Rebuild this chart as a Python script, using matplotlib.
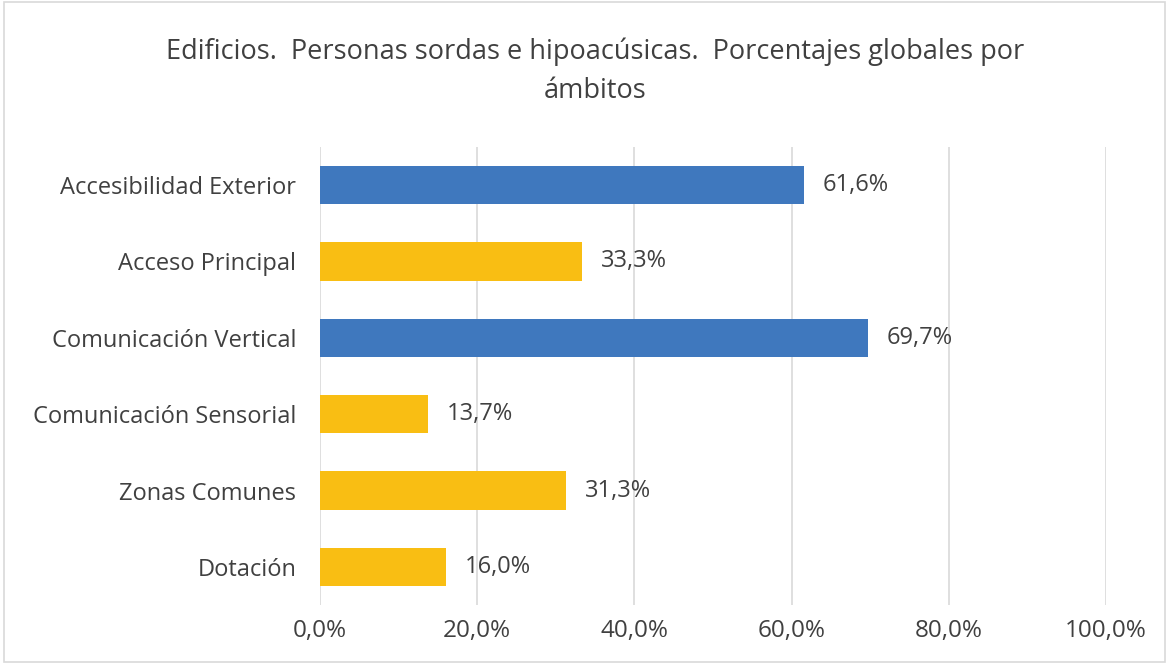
import matplotlib
matplotlib.use("Agg")
import matplotlib.pyplot as plt
from matplotlib.patches import Rectangle

categories = ["Accesibilidad Exterior", "Acceso Principal", "Comunicación Vertical",
              "Comunicación Sensorial", "Zonas Comunes", "Dotación"]
values = [61.6, 33.3, 69.7, 13.7, 31.3, 16.0]
colors = ["#3F78BE", "#F9BE13", "#3F78BE", "#F9BE13", "#F9BE13", "#F9BE13"]
xticks = [0, 20, 40, 60, 80, 100]
xtick_labels = ["0,0%", "20,0%", "40,0%", "60,0%", "80,0%", "100,0%"]
title = "Edificios.  Personas sordas e hipoacúsicas.  Porcentajes globales por\námbitos"

plt.rcParams['font.family'] = ['Open Sans', 'DejaVu Sans']
txt = "#404040"

fig = plt.figure(figsize=(11.69, 6.64), dpi=100)
ax = fig.add_axes([320/1169, 1-605/664, (1106-320)/1169, (605-147)/664])

y = list(range(len(categories)))
ax.barh(y, values, height=0.5, color=colors, zorder=3)
for yi, v in zip(y, values):
    ax.text(v + 2.4, yi, f"{v:.1f}".replace(".", ",") + "%", va="center", ha="left",
            fontsize=17, color=txt)

ax.set_xlim(0, 100)
ax.set_ylim(len(categories) - 0.5, -0.5)
ax.set_yticks(y)
ax.set_yticklabels(categories, fontsize=17, color=txt)
ax.set_xticks(xticks)
ax.set_xticklabels(xtick_labels, fontsize=17.5, color=txt)
ax.tick_params(length=0, pad=17)
ax.tick_params(axis='x', pad=10)
ax.grid(axis='x', color="#D9D9D9", linewidth=1.2, zorder=0)
for s in ax.spines.values():
    s.set_visible(False)

fig.text(595/1169, 1-71/664, title, ha="center", va="center", fontsize=19.5,
         color=txt, linespacing=1.5)

fig.patches.append(Rectangle((0.003, 0.003), 0.994, 0.994, transform=fig.transFigure,
                             fill=False, edgecolor="#D9D9D9", linewidth=1.2))

fig.savefig("out.png", dpi=100)
